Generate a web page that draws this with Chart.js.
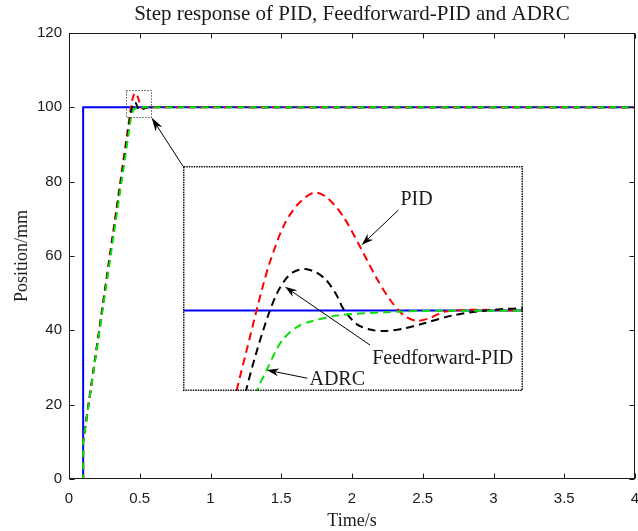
<!DOCTYPE html>
<html>
<head>
<meta charset="utf-8">
<script src="https://cdn.jsdelivr.net/npm/chart.js@4.4.1/dist/chart.umd.min.js"></script>
<style>
  html, body { margin: 0; padding: 0; background: #fff; }
  #wrap { position: relative; width: 638px; height: 531px; }
  #inset { position: absolute; background: #fff; }
</style>
</head>
<body>
<div id="wrap">
  <canvas id="main" width="638" height="531"></canvas>
  <canvas id="inset"></canvas>
</div>
<script>
// tick labels
const X_TICKS = [0, 0.5, 1, 1.5, 2, 2.5, 3, 3.5, 4];
const Y_TICKS = [0, 20, 40, 60, 80, 100, 120];

// reference step
const refT = [0, 0.1, 0.1, 4];
const refY = [0, 0, 100, 100];

// PID response
const pidT = [0, 0.1, 0.1, 0.4279, 0.4331, 0.4375, 0.4418, 0.4453, 0.4522, 0.4592, 0.4679, 0.4748,
  0.4835, 0.4921, 0.5008, 0.5078, 0.5147, 0.5216, 0.5286, 0.5355, 0.5494, 0.5772, 4];
const pidY = [0, 0, 10, 97.36, 98.68, 99.80, 100.85, 101.60, 102.75, 103.45, 103.87, 103.72,
  103.08, 102.10, 101.06, 100.35, 99.85, 99.66, 99.75, 99.95, 100.02, 100.0, 100];

// Feedforward-PID response
const ffT = [0, 0.1, 0.1, 0.4328, 0.4384, 0.4444, 0.4488, 0.4531, 0.4574, 0.4635, 0.4696, 0.4748,
  0.4800, 0.4835, 0.4904, 0.4973, 0.5043, 0.5147, 0.5251, 0.5407, 0.5581, 0.5772, 4];
const ffY = [0, 0, 10, 97.36, 98.66, 99.85, 100.55, 101.00, 101.26, 101.36, 101.24, 100.98,
  100.50, 100.05, 99.55, 99.37, 99.32, 99.40, 99.57, 99.84, 100.0, 100.07, 100];

// ADRC response
const adrcT = [0, 0.1, 0.1, 0.4387, 0.4436, 0.4479, 0.4522, 0.4592, 0.4661, 0.4800, 0.5043, 0.5321, 4];
const adrcY = [0, 0, 10, 97.36, 98.04, 98.62, 99.06, 99.45, 99.63, 99.83, 99.94, 99.99, 100];

// zoomed window and where the inset sits (main-axis units)
const ZOOM_X = [0.40, 0.577];
const ZOOM_Y = [97.35, 104.75];
const INSET_X = [0.805, 3.21];
const INSET_Y = [23.7, 84.2];

// inset labels: text, label position, arrow start, arrow tip (inset data units)
const noteText = ['PID', 'Feedforward-PID', 'ADRC'];
const notePos = [[0.5216, 103.63], [0.5352, 98.42], [0.4803, 97.71]];
const noteFrom = [[0.5121, 103.30], [0.4974, 98.86], [0.4647, 97.77]];
const noteTip = [[0.4930, 102.15], [0.4531, 100.78], [0.4436, 98.04]];

const serif = "'Times New Roman', 'Liberation Serif', serif";
const sans = "Arial, 'Liberation Sans', sans-serif";
const ink = '#1a1a1a';

const pts = (t, y) => t.map((v, i) => ({ x: v, y: y[i] }));

function series(w, dash, tension) {
  return [
    { label: 'ADRC', data: pts(adrcT, adrcY), borderColor: '#0be00b', borderWidth: w, borderDash: dash, order: 1, tension },
    { label: 'Feedforward-PID', data: pts(ffT, ffY), borderColor: '#000000', borderWidth: w, borderDash: dash, order: 2, tension },
    { label: 'PID', data: pts(pidT, pidY), borderColor: '#ff0000', borderWidth: w, borderDash: dash, order: 3, tension },
    { label: 'Reference', data: pts(refT, refY), borderColor: '#0000ff', borderWidth: w, order: 4, tension: 0 }
  ].map(d => Object.assign(d, { pointRadius: 0, fill: false }));
}

function arrow(ctx, x0, y0, x1, y1, len, half) {
  const a = Math.atan2(y1 - y0, x1 - x0);
  ctx.beginPath();
  ctx.moveTo(x0, y0);
  ctx.lineTo(x1 - Math.cos(a) * len * 0.7, y1 - Math.sin(a) * len * 0.7);
  ctx.stroke();
  ctx.save();
  ctx.translate(x1, y1);
  ctx.rotate(a);
  ctx.beginPath();
  ctx.moveTo(0, 0);
  ctx.lineTo(-len, -half);
  ctx.lineTo(-len * 0.7, 0);
  ctx.lineTo(-len, half);
  ctx.closePath();
  ctx.fill();
  ctx.restore();
}

// box, inward ticks, zoom rectangle and pointer arrow
const frame = {
  id: 'frame',
  afterDatasetsDraw(chart) {
    const { ctx, chartArea: a, scales: { x, y } } = chart;
    const L = Math.round(a.left) + 0.5, R = Math.round(a.right) - 0.5;
    const T = Math.round(a.top) + 0.5, B = Math.round(a.bottom) - 0.5;
    ctx.save();
    ctx.strokeStyle = ink;
    ctx.lineWidth = 1;
    ctx.strokeRect(L, T, R - L, B - T);
    ctx.beginPath();
    X_TICKS.forEach(v => {
      const px = Math.round(x.getPixelForValue(v)) + 0.5;
      ctx.moveTo(px, B); ctx.lineTo(px, B - 5);
      ctx.moveTo(px, T); ctx.lineTo(px, T + 5);
    });
    Y_TICKS.forEach(v => {
      const py = Math.round(y.getPixelForValue(v)) + 0.5;
      ctx.moveTo(L, py); ctx.lineTo(L + 5, py);
      ctx.moveTo(R, py); ctx.lineTo(R - 5, py);
    });
    ctx.stroke();

    // dotted zoom window
    const zx0 = Math.round(x.getPixelForValue(ZOOM_X[0])) + 0.5;
    const zx1 = Math.round(x.getPixelForValue(ZOOM_X[1])) + 0.5;
    const zy0 = Math.round(y.getPixelForValue(ZOOM_Y[1])) + 0.5;
    const zy1 = Math.round(y.getPixelForValue(ZOOM_Y[0])) + 0.5;
    ctx.setLineDash([1, 2]);
    ctx.strokeStyle = '#000';
    ctx.strokeRect(zx0, zy0, zx1 - zx0, zy1 - zy0);
    ctx.setLineDash([]);

    // arrow from inset corner to zoom window
    ctx.fillStyle = '#000';
    arrow(ctx, x.getPixelForValue(INSET_X[0]), y.getPixelForValue(INSET_Y[1]), zx1, zy1, 14, 4);
    ctx.restore();
  }
};

const mainChart = new Chart(document.getElementById('main'), {
  type: 'line',
  data: { datasets: series(2, [7, 5], 0) },
  options: {
    responsive: false,
    animation: false,
    layout: { padding: { left: 0, right: 3, top: 0, bottom: 0 } },
    plugins: {
      legend: { display: false },
      tooltip: { enabled: false },
      title: {
        display: true,
        fullSize: false,
        text: 'Step response of PID, Feedforward-PID and ADRC',
        color: ink,
        font: { family: serif, size: 21, weight: 'normal', lineHeight: '25px' },
        padding: { top: 2, bottom: 6 }
      }
    },
    scales: {
      x: {
        type: 'linear', min: 0, max: 4,
        grid: { display: false, drawTicks: false },
        border: { display: false },
        afterBuildTicks: s => { s.ticks = X_TICKS.map(v => ({ value: v })); },
        afterFit: s => { s.height = 52; s.paddingLeft = 0; s.paddingRight = 0; },
        ticks: { color: ink, padding: 11, font: { family: sans, size: 15 }, callback: v => String(v), maxRotation: 0, autoSkip: false },
        title: { display: true, text: 'Time/s', color: ink, font: { family: serif, size: 18, lineHeight: 1 }, padding: { top: 0, bottom: 1 } }
      },
      y: {
        min: 0, max: 120,
        grid: { display: false, drawTicks: false },
        border: { display: false },
        afterBuildTicks: s => { s.ticks = Y_TICKS.map(v => ({ value: v })); },
        afterFit: s => { s.width = 69; },
        ticks: { color: ink, padding: 7, font: { family: sans, size: 15 }, autoSkip: false },
        title: { display: true, text: 'Position/mm', color: ink, font: { family: serif, size: 18 }, padding: { top: 11, bottom: 0 } }
      }
    }
  },
  plugins: [frame]
});

// inset placed over the main chart
const xs = mainChart.scales.x, ys = mainChart.scales.y;
const iL = Math.round(xs.getPixelForValue(INSET_X[0]));
const iR = Math.round(xs.getPixelForValue(INSET_X[1]));
const iT = Math.round(ys.getPixelForValue(INSET_Y[1]));
const iB = Math.round(ys.getPixelForValue(INSET_Y[0]));
const insetCanvas = document.getElementById('inset');
insetCanvas.width = iR - iL;
insetCanvas.height = iB - iT;
insetCanvas.style.left = iL + 'px';
insetCanvas.style.top = iT + 'px';

const insetDecor = {
  id: 'insetDecor',
  afterDatasetsDraw(chart) {
    const { ctx, width, height, scales: { x, y } } = chart;
    ctx.save();
    ctx.strokeStyle = '#000';
    ctx.lineWidth = 1;
    noteText.forEach((txt, i) => {
      ctx.fillStyle = '#000';
      arrow(ctx, x.getPixelForValue(noteFrom[i][0]), y.getPixelForValue(noteFrom[i][1]),
        x.getPixelForValue(noteTip[i][0]), y.getPixelForValue(noteTip[i][1]), 12, 4);
      ctx.fillStyle = ink;
      ctx.font = '20px ' + serif;
      ctx.textAlign = 'center';
      ctx.textBaseline = 'middle';
      ctx.fillText(txt, x.getPixelForValue(notePos[i][0]), y.getPixelForValue(notePos[i][1]));
    });
    ctx.strokeStyle = '#111';
    ctx.lineWidth = 1.5;
    ctx.setLineDash([1.5, 1]);
    ctx.strokeRect(0.75, 0.75, width - 1.5, height - 1.5);
    ctx.restore();
  }
};

new Chart(insetCanvas, {
  type: 'line',
  data: { datasets: series(2, [8, 5], 0.3) },
  options: {
    responsive: false,
    animation: false,
    layout: { padding: 0 },
    plugins: { legend: { display: false }, tooltip: { enabled: false } },
    scales: {
      x: { type: 'linear', display: false, min: ZOOM_X[0], max: ZOOM_X[1] },
      y: { display: false, min: ZOOM_Y[0], max: ZOOM_Y[1] }
    }
  },
  plugins: [insetDecor]
});
</script>
</body>
</html>
